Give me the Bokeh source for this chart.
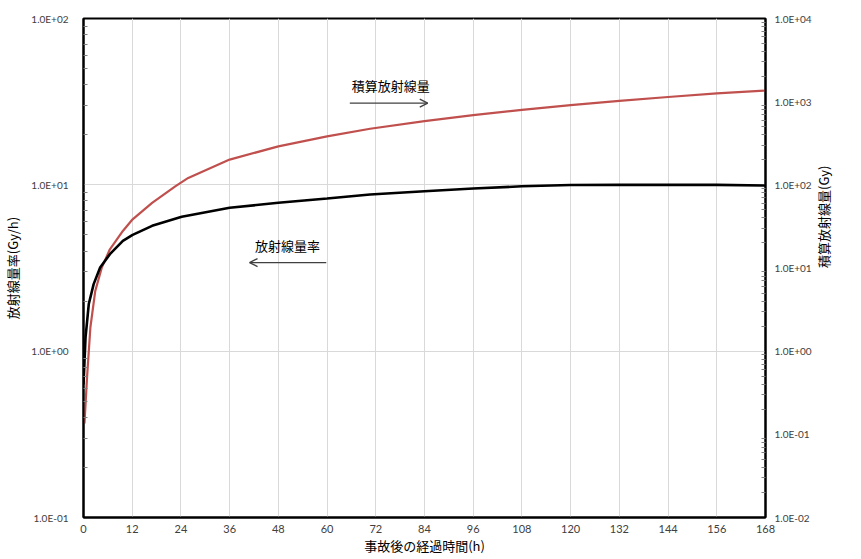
import math
from bokeh.plotting import figure
from bokeh.models import (Range1d, LogScale, LogAxis, FixedTicker, CustomJSTickFormatter,
                          Arrow, OpenHead, Label, ColumnDataSource)
from bokeh.embed import file_html
from bokeh.resources import INLINE

# ---- data ----
time_rate = [0, 0.5, 1.3, 2.5, 4.1, 6.5, 9.7, 12.1, 16.9, 24.2, 36, 48, 60, 70.6, 84, 96, 108, 120, 132, 144, 156, 168]
dose_rate = [0.63, 1.21, 1.92, 2.53, 3.18, 3.83, 4.6, 5.0, 5.67, 6.42, 7.28, 7.8, 8.27, 8.75, 9.15, 9.5, 9.8, 9.97, 10.0, 10.0, 10.0, 9.9]

time_dose = [0.24, 0.88, 1.7, 2.9, 4.5, 6.5, 9.7, 12.1, 16.9, 22.6, 25.8, 36, 48, 60, 70.6, 84, 96, 108, 120, 132, 144, 156, 168]
cum_dose = [0.135, 0.49, 1.94, 5.3, 10.1, 16.8, 27.9, 38.5, 60.8, 96, 121, 201, 290, 383, 472, 584, 689, 795, 910, 1023, 1138, 1255, 1361]

x_ticks = [0, 12, 24, 36, 48, 60, 72, 84, 96, 108, 120, 132, 144, 156, 168]
left_ticks = [0.1, 1, 10, 100]
right_ticks = [0.01, 0.1, 1, 10, 100, 1000, 10000]

x_title = "事故後の経過時間(h)"
left_title = "放射線量率(Gy/h)"
right_title = "積算放射線量(Gy)"
label_cum = "積算放射線量"
label_rate = "放射線量率"

JP = "Noto Sans CJK JP"
NUM = "Lato"
GREY = "#404040"


def minors(majors):
    out = []
    for m in majors[:-1]:
        for k in range(2, 10):
            out.append(m * k)
    return out


p = figure(width=845, height=557,
           x_range=Range1d(0, 168), y_range=Range1d(0.1, 100),
           y_axis_type="log", output_backend="svg", toolbar_location=None,
           min_border_left=82, min_border_right=50, min_border_top=18, min_border_bottom=38,
           background_fill_color="white", border_fill_color="white")
p.extra_y_ranges = {"dose": Range1d(0.01, 10000)}
p.extra_y_scales = {"dose": LogScale()}

p.outline_line_color = "black"
p.outline_line_width = 2

fmt = CustomJSTickFormatter(code="""
const e = Math.round(Math.log10(tick));
const s = e < 0 ? '-' : '+';
return '1.0E' + s + String(Math.abs(e)).padStart(2, '0');
""")

# x axis
xa = p.xaxis[0]
xa.ticker = FixedTicker(ticks=x_ticks)
xa.axis_label = x_title
xa.axis_label_text_font = JP
xa.axis_label_text_font_size = "13px"
xa.axis_label_text_font_style = "normal"
xa.axis_label_text_color = "black"
xa.axis_label_standoff = 0
xa.major_label_text_font = NUM
xa.major_label_text_font_size = "11px"
xa.major_label_text_color = GREY
xa.major_label_standoff = 7
xa.axis_line_color = "black"
xa.axis_line_width = 2
xa.major_tick_in = 0
xa.major_tick_out = 0
xa.minor_tick_line_color = None

# left axis
ya = p.yaxis[0]
ya.ticker = FixedTicker(ticks=left_ticks, minor_ticks=minors(left_ticks))
ya.formatter = fmt
ya.axis_label = left_title
ya.axis_label_text_font = JP
ya.axis_label_text_font_size = "13px"
ya.axis_label_text_font_style = "normal"
ya.axis_label_text_color = "black"
ya.axis_label_standoff = 6
ya.major_label_text_font = NUM
ya.major_label_text_font_size = "10px"
ya.major_label_text_color = GREY
ya.major_label_standoff = 15
ya.axis_line_color = "black"
ya.axis_line_width = 2
ya.major_tick_in = 0
ya.major_tick_out = 0
ya.minor_tick_in = 4
ya.minor_tick_out = 0
ya.minor_tick_line_color = "#808080"

# right axis
ra = LogAxis(y_range_name="dose",
             ticker=FixedTicker(ticks=right_ticks, minor_ticks=minors(right_ticks)),
             formatter=fmt)
ra.axis_label = right_title
ra.axis_label_text_font = JP
ra.axis_label_text_font_size = "13px"
ra.axis_label_text_font_style = "normal"
ra.axis_label_text_color = "black"
ra.axis_label_standoff = 9
ra.axis_label_orientation = math.pi / 2
ra.major_label_text_font = NUM
ra.major_label_text_font_size = "10px"
ra.major_label_text_color = GREY
ra.major_label_standoff = 9
ra.axis_line_color = "black"
ra.axis_line_width = 2
ra.major_tick_in = 0
ra.major_tick_out = 0
ra.minor_tick_in = 4
ra.minor_tick_out = 0
ra.minor_tick_line_color = "#808080"
p.add_layout(ra, "right")

# grids
p.xgrid.ticker = FixedTicker(ticks=x_ticks)
p.xgrid.grid_line_color = "#d9d9d9"
p.xgrid.grid_line_width = 1
p.ygrid.ticker = FixedTicker(ticks=left_ticks)
p.ygrid.grid_line_color = "#d9d9d9"
p.ygrid.grid_line_width = 1
p.ygrid.minor_grid_line_color = None

# curves
src_rate = ColumnDataSource(dict(t=time_rate, v=dose_rate))
src_dose = ColumnDataSource(dict(t=time_dose, v=cum_dose))
p.line("t", "v", source=src_dose, y_range_name="dose", line_color="#c0504d", line_width=2.2)
p.line("t", "v", source=src_rate, line_color="black", line_width=2.6)

# annotations
p.add_layout(Label(x=75.7, y=39.8, text=label_cum, text_align="center", text_baseline="middle",
                   text_font=JP, text_font_size="13px", text_color="black"))
p.add_layout(Arrow(x_start=65.6, y_start=31, x_end=84.8, y_end=31,
                   line_color=GREY, line_width=1.3,
                   end=OpenHead(size=8, line_color=GREY, line_width=1.3)))
p.add_layout(Label(x=50.25, y=4.33, text=label_rate, text_align="center", text_baseline="middle",
                   text_font=JP, text_font_size="13px", text_color="black"))
p.add_layout(Arrow(x_start=59.8, y_start=3.41, x_end=40.9, y_end=3.41,
                   line_color=GREY, line_width=1.3,
                   end=OpenHead(size=8, line_color=GREY, line_width=1.3)))

open("out.html", "w").write(file_html(p, INLINE))
